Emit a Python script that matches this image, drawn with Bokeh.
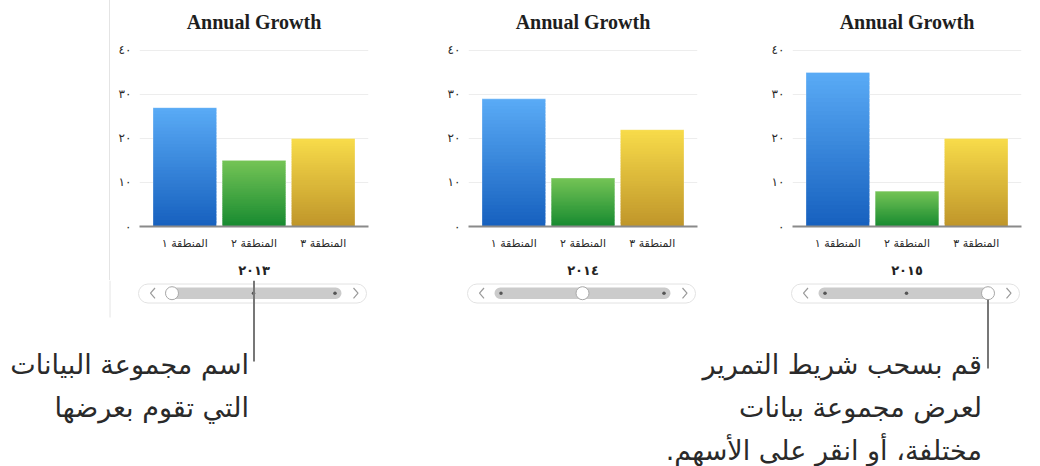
from bokeh.plotting import figure
from bokeh.layouts import row, column
from bokeh.models import FactorRange, Range1d, FixedTicker, ColumnDataSource, Div
from bokeh.core.properties import value
from bokeh.embed import file_html
from bokeh.resources import INLINE

# ---------------- data ----------------
chart_title = "Annual Growth"
regions = ["المنطقة ١", "المنطقة ٢", "المنطقة ٣"]
years = ["٢٠١٣", "٢٠١٤", "٢٠١٥"]
values_2013 = [27, 15, 20]
values_2014 = [29, 11, 22]
values_2015 = [35, 8, 20]
y_ticks = [0, 10, 20, 30, 40]
y_tick_labels = ["٠", "١٠", "٢٠", "٣٠", "٤٠"]
callout_left = ["اسم مجموعة البيانات", "التي تقوم بعرضها"]
callout_right = ["قم بسحب شريط التمرير", "لعرض مجموعة بيانات", "مختلفة، أو انقر على الأسهم.\u200f"]

# ---------------- style ----------------
bar_top_colors = ["#5aabf6", "#75c456", "#f8dc4a"]
bar_bottom_colors = ["#1660be", "#178a30", "#bf952a"]
N_BANDS = 36
BAR_W = 0.917
CHART_H = 280
TITLE_STANDOFF = 16
TOP_B = 40            # title panel height (24 + standoff)
GRID_TOP_PX = 50      # where the top tick (40) sits
BOT_B = 52
LEFT_W = 110
chart_widths = [290, 330, 310]
border_left = [29, 68, 62]
border_right = [32, 33, 19]
TEXT_FONT = "DejaVu Sans"

frame_h = CHART_H - TOP_B - BOT_B
axis_px = CHART_H - BOT_B - GRID_TOP_PX
y_end = y_ticks[-1] * frame_h / axis_px


def hex_to_rgb(h):
    h = h.lstrip("#")
    return tuple(int(h[i:i + 2], 16) for i in (0, 2, 4))


def mix(c1, c2, t):
    a, b = hex_to_rgb(c1), hex_to_rgb(c2)
    return "#%02x%02x%02x" % tuple(round(a[i] + (b[i] - a[i]) * t) for i in range(3))


def make_chart(year, vals, w, bl, br):
    p = figure(width=w, height=CHART_H,
               x_range=FactorRange(*regions, range_padding=0.1535, range_padding_units="absolute"),
               y_range=Range1d(0, y_end),
               output_backend="svg", toolbar_location=None,
               min_border_left=bl, min_border_right=br,
               min_border_top=TOP_B, min_border_bottom=BOT_B)
    # gradient bars as stacked, slightly overlapping bands
    xs, bots, tops, cols = [], [], [], []
    for j, v in enumerate(vals):
        for k in range(N_BANDS):
            xs.append(regions[j])
            bots.append(v * k / N_BANDS)
            tops.append(min(v, v * (k + 1.8) / N_BANDS))
            cols.append(mix(bar_bottom_colors[j], bar_top_colors[j], (k + 0.5) / N_BANDS))
    src = ColumnDataSource(dict(x=xs, bottom=bots, top=tops, color=cols))
    p.vbar(x="x", bottom="bottom", top="top", width=BAR_W, fill_color="color",
           line_color=None, source=src)
    p.vbar(x=regions, top=vals, width=BAR_W, fill_color=None,
           line_color="white", line_alpha=0.3, line_width=1)

    p.title.text = chart_title
    p.title.align = "center"
    p.title.text_font = "Liberation Serif"
    p.title.text_font_size = "20px"
    p.title.text_font_style = "bold"
    p.title.text_color = "#1e1e1e"
    p.title.standoff = TITLE_STANDOFF

    p.outline_line_color = None
    p.xgrid.grid_line_color = None
    p.ygrid.ticker = FixedTicker(ticks=y_ticks)
    p.ygrid.grid_line_color = "#ededed"

    ya = p.yaxis[0]
    ya.ticker = FixedTicker(ticks=y_ticks)
    ya.major_label_overrides = dict(zip(y_ticks, y_tick_labels))
    ya.axis_line_color = None
    ya.major_tick_line_color = None
    ya.minor_tick_line_color = None
    ya.major_tick_out = 0
    ya.major_tick_in = 0
    ya.major_label_standoff = 8
    ya.major_label_text_font = TEXT_FONT
    ya.major_label_text_font_size = "12px"
    ya.major_label_text_color = "#2a2a2a"

    xa = p.xaxis[0]
    xa.axis_line_color = "#8a8a8a"
    xa.axis_line_width = 2
    xa.major_tick_line_color = None
    xa.minor_tick_line_color = None
    xa.major_tick_out = 0
    xa.major_tick_in = 0
    xa.major_label_standoff = 10
    xa.major_label_text_font = TEXT_FONT
    xa.major_label_text_font_size = "11px"
    xa.major_label_text_color = "#2a2a2a"
    xa.axis_label = year
    xa.axis_label_standoff = 10
    xa.axis_label_text_font = TEXT_FONT
    xa.axis_label_text_font_size = "13px"
    xa.axis_label_text_font_style = "bold"
    xa.axis_label_text_color = "#222222"
    return p


# left spacer with divider line
left = Div(text="", width=LEFT_W, height=CHART_H, margin=(0, 0, 0, 0),
           styles={"border-right": "1px solid #e4e4e4", "box-sizing": "border-box"})

all_vals = [values_2013, values_2014, values_2015]
charts = [make_chart(years[i], all_vals[i], chart_widths[i], border_left[i], border_right[i]) for i in range(3)]

# frame left positions derived from layout
frame_lefts = []
acc = LEFT_W
for i in range(3):
    frame_lefts.append(acc + border_left[i])
    acc += chart_widths[i]
frame_w = chart_widths[0] - border_left[0] - border_right[0]

# bottom canvas: sliders and callouts
H_BOT = 466 - CHART_H
b = figure(width=1040, height=H_BOT, x_range=Range1d(0, 1040), y_range=Range1d(466, CHART_H),
           output_backend="svg", toolbar_location=None, min_border=0,
           x_axis_type=None, y_axis_type=None)
b.outline_line_color = None
b.grid.grid_line_color = None
b.segment(x0=[LEFT_W - 0.5], y0=[CHART_H], x1=[LEFT_W - 0.5], y1=[317], line_color="#e4e4e4", line_width=1)

knob_x = []
for i, fl in enumerate(frame_lefts):
    b.quad(left=[fl - 1], right=[fl + 227], top=[283.5], bottom=[302.5], fill_color="white",
           line_color="#e2e2e2", line_width=1, border_radius=10)
    b.quad(left=[fl + 26], right=[fl + 202], top=[287], bottom=[298.5], fill_color="#cbcbcb",
           line_color=None, border_radius=6)
    slots = [fl + 26 + 6.5 + k * (176 - 13) / 2 for k in range(len(years))]
    dots = [s for k, s in enumerate(slots) if k != i]
    b.scatter(x=dots, y=[292.7] * len(dots), size=3.5, fill_color="#555555", line_color=None)
    b.scatter(x=[slots[i]], y=[292.7], size=13, fill_color="white", line_color="#a8a8a8", line_width=1)
    knob_x.append(slots[i])
    b.multi_line(xs=[[fl + 15.5, fl + 11, fl + 15.5], [fl + 214, fl + 218.5, fl + 214]],
                 ys=[[287.5, 292.7, 297.9], [287.5, 292.7, 297.9]],
                 line_color="#9a9a9a", line_width=1.2)

# callout lines
c1x = frame_lefts[0] + frame_w / 2
b.segment(x0=[c1x], y0=[CHART_H], x1=[c1x], y1=[361], line_color="#777777", line_width=2)
b.segment(x0=[knob_x[2]], y0=[299.2], x1=[knob_x[2]], y1=[368], line_color="#777777", line_width=2)

b.text(x=[c1x - 5] * len(callout_left), y=[364 + 43 * k for k in range(len(callout_left))],
       text=callout_left, text_align="right", text_baseline="middle",
       text_font=value(TEXT_FONT), text_font_size="27px", text_color="#2a2a2a")
b.text(x=[knob_x[2] - 6] * len(callout_right), y=[364 + 43 * k for k in range(len(callout_right))],
       text=callout_right, text_align="right", text_baseline="middle",
       text_font=value(TEXT_FONT), text_font_size="27px", text_color="#2a2a2a")

layout = column(row(left, *charts), b)

open("out.html", "w").write(file_html(layout, INLINE))
